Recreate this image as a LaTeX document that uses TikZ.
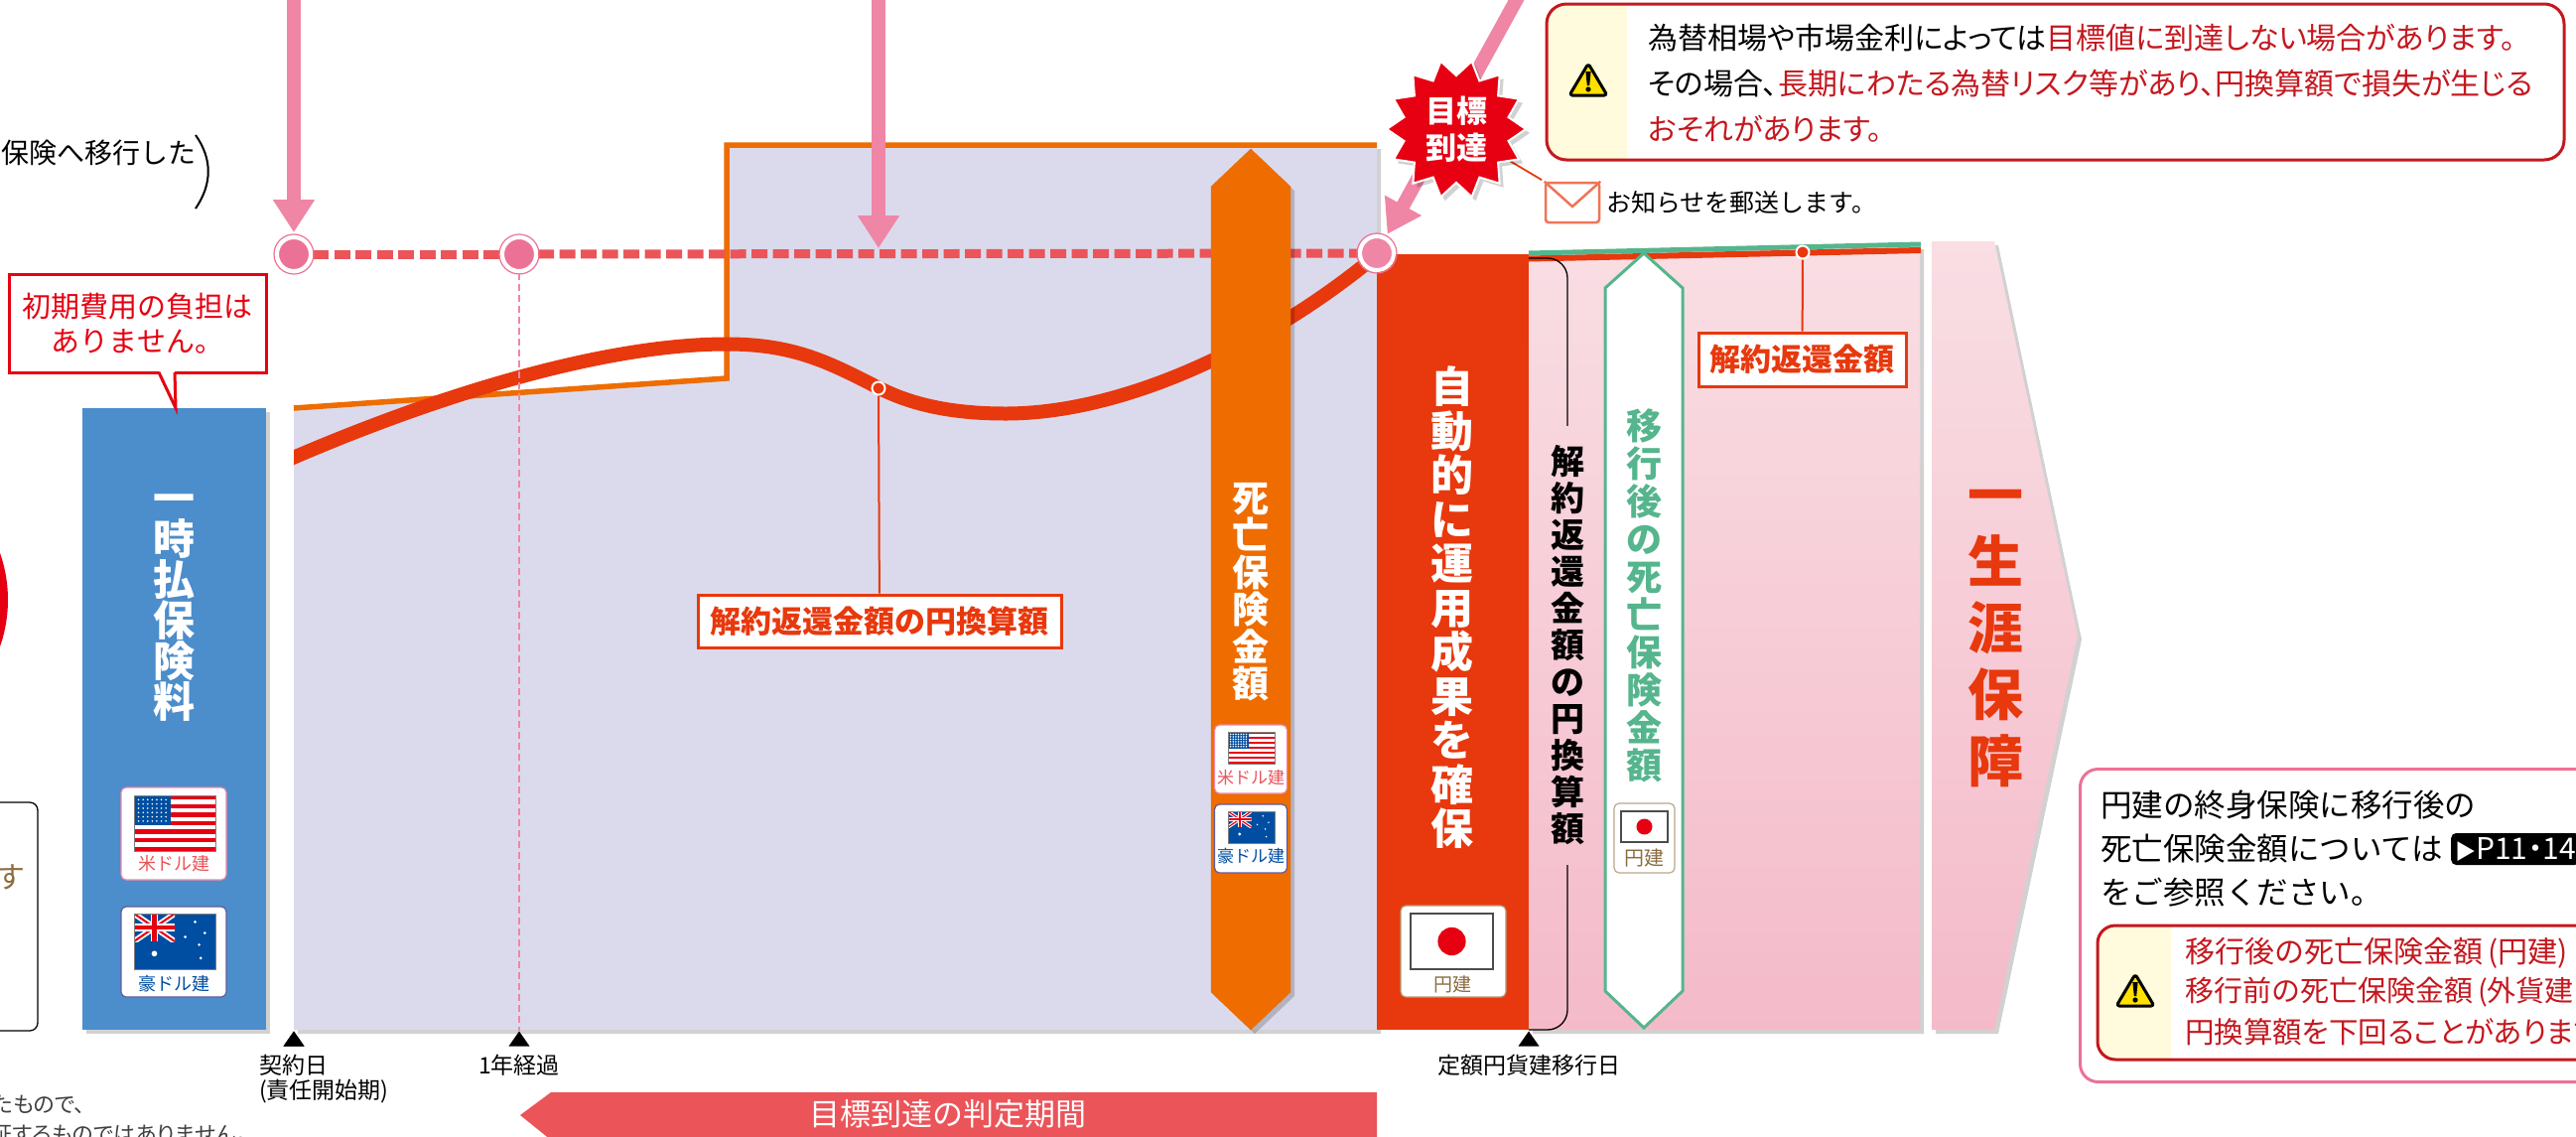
\documentclass[tikz,border=0pt]{standalone}
\usepackage{fontspec}
\setmainfont{Noto Sans CJK JP}
\newfontfamily\paltfont{Noto Sans CJK JP}[RawFeature={+palt}]
\usetikzlibrary{arrows.meta,shapes.geometric,shadows}

\definecolor{panelblue}{HTML}{4C8DCB}
\definecolor{panellav}{HTML}{DBDAEC}
\definecolor{groworange}{HTML}{EE6C00}
\definecolor{bandred}{HTML}{E8380D}
\definecolor{arrowpink}{HTML}{EF86A6}
\definecolor{dotpink}{HTML}{EC7196}
\definecolor{targetred}{HTML}{EB5459}
\definecolor{flagred}{HTML}{E60012}
\definecolor{flagblue}{HTML}{004EA2}
\definecolor{yenbrown}{HTML}{8C6D3F}
\definecolor{deathgreen}{HTML}{55B58D}
\definecolor{warnred}{HTML}{C4181F}
\definecolor{warnpale}{HTML}{FFFBDC}
\definecolor{warnyellow}{HTML}{FFE000}
\definecolor{fadetop}{HTML}{F9DEE4}
\definecolor{fadebot}{HTML}{F4BAC9}

\newcommand{\fs}[1]{\fontsize{#1}{#1}\selectfont}

\tikzset{
  softshadow/.style={drop shadow={shadow xshift=4pt,shadow yshift=-4pt,fill=black,opacity=.18}},
  vtext/.style n args={2}{anchor=center,font=\fontsize{#1}{#2}\selectfont\bfseries,align=center,inner sep=0pt},
  plain/.style n args={2}{font=\fs{#1},text=#2,inner sep=0pt},
  badge/.style={fill=white,rounded corners=5pt,line width=1.2pt,inner sep=0pt},
  tick/.style={isosceles triangle,isosceles triangle stretches,shape border rotate=90,fill=black,minimum height=15pt,minimum width=21pt,inner sep=0pt,anchor=apex},
  ringdot/.style={circle,fill=#1,draw=white,line width=4pt,minimum size=34pt,inner sep=0pt},
  hairdot/.style={circle,fill=bandred,draw=white,line width=2pt,minimum size=13pt,inner sep=0pt},
  tagbox/.style={rectangle,fill=white,draw=bandred,line width=3pt,font=\fs{31}\bfseries,text=bandred,inner sep=0pt},
  pinkarrow/.style={draw=arrowpink,line width=14pt,-{Triangle[width=40pt,length=33pt]},shorten >=3pt},
}

\newcommand{\usflag}[4]{
  \begin{scope}[shift={(#1,#2)},x=#3pt,y=-#4pt]
    \fill[white] (0,0) rectangle (1,1);
    \foreach \k in {0,2,...,12} \fill[flagred] (0,\k/13) rectangle (1,\k/13+1/13);
    \fill[flagblue] (0,0) rectangle (.45,7/13);
    \foreach \i in {1,...,7} \foreach \j in {1,...,6} \fill[white] (\i*.056,\j*.077) circle (.9pt);
    \draw[gray,line width=1pt] (0,0) rectangle (1,1);
  \end{scope}
}
\newcommand{\auflag}[4]{
  \begin{scope}[shift={(#1,#2)},x=#3pt,y=-#4pt]
    \fill[flagblue] (0,0) rectangle (1,1);
    \begin{scope}
      \clip (0,0) rectangle (.5,.5);
      \draw[white,line width=#3*.07] (0,0) -- (.5,.5) (0,.5) -- (.5,0);
      \draw[flagred,line width=#3*.025] (0,0) -- (.5,.5) (0,.5) -- (.5,0);
      \draw[white,line width=#3*.09] (.25,0) -- (.25,.5) (0,.25) -- (.5,.25);
      \draw[flagred,line width=#3*.05] (.25,0) -- (.25,.5) (0,.25) -- (.5,.25);
    \end{scope}
    \fill[white] (.25,.72) circle (#3*.035pt);
    \foreach \i/\j in {.75/.15,.87/.35,.63/.42,.82/.8,.8/.56} \fill[white] (\i,\j) circle (#3*.018pt);
    \draw[gray,line width=1pt] (0,0) rectangle (1,1);
  \end{scope}
}
\newcommand{\jpflag}[4]{
  \begin{scope}[shift={(#1,#2)},x=#3pt,y=-#4pt]
    \fill[white] (0,0) rectangle (1,1);
    \fill[flagred] (.5,.5) circle (#3*.17pt);
    \draw[black!70,line width=1.2pt] (0,0) rectangle (1,1);
  \end{scope}
}
\newcommand{\warnmark}[3]{
  \begin{scope}[shift={(#1,#2)},scale=#3]
    \filldraw[fill=warnyellow,draw=black,line width=3pt,rounded corners=3pt,line join=round] (0,-16) -- (19,16) -- (-19,16) -- cycle;
    \fill[black] (-2.6,-8) -- (2.6,-8) -- (1.2,6) -- (-1.2,6) -- cycle;
    \fill[black] (0,10) circle (2.6pt);
  \end{scope}
}

\begin{document}
\begin{tikzpicture}[x=1pt,y=-1pt]
  \useasboundingbox (0,0) rectangle (2595,1144);
  \clip (0,0) rectangle (2595,1144);

  \fill[flagred] (-134,604) circle (142pt);
  \draw[black,line width=1.3pt,rounded corners=8pt] (-20,808) rectangle (38,1038);
  \node[plain={30}{yenbrown},anchor=east] (keepnote) at (26,883) {す};
  \node[plain={28}{black},anchor=east] (shiftnote) at (198,154) {保険へ移行した};
  \draw[black,line width=2pt] (197,136) .. controls (214,160) and (214,185) .. (197,210);
  \node[plain={22}{black!75},anchor=east] (footA) at (86,1112) {\paltfont たもので、};
  \node[plain={22}{black!75},anchor=east] (footB) at (249,1142) {\paltfont 保証するものではありません。};

  \fill[panelblue,softshadow] (83,411) rectangle (268,1037);
  \node[vtext={42}{41},text=white] (premium) at (175,612) {一\\時\\払\\保\\険\\料};
  \node[badge,draw=arrowpink,minimum width=106pt,minimum height=93pt] (usbadgeA) at (175,839.5) {};
  \usflag{135}{801}{82}{56}
  \node[plain={18}{targetred}] (uslabelA) at (175,870) {米ドル建};
  \node[badge,draw=flagblue!60!dotpink,minimum width=106pt,minimum height=91pt] (aubadgeA) at (175,958.5) {};
  \auflag{135}{920}{82}{56}
  \node[plain={18}{flagblue}] (aulabelA) at (175,991) {豪ドル建};

  \node[rectangle,draw=flagred,fill=white,line width=3pt,minimum width=259pt,minimum height=99pt,font=\fs{29},text=flagred,align=center,inner sep=0pt] (feenote) at (138.5,325.5) {初期費用の負担は\\[6pt]ありません。};
  \coordinate (feetip) at (177,411);
  \fill[white] (160,373) -- (feetip) -- (176,373) -- cycle;
  \draw[flagred,line width=3pt] (160,375) -- (feetip) -- (176,375);

  \fill[panellav,softshadow] (296,411) -- (732,381) -- (732,146) -- (1387,146) -- (1387,1037) -- (296,1037) -- cycle;
  \draw[groworange,line width=5.5pt] (296,411) -- (732,381) -- (732,146) -- (1387,146);

  \begin{scope}
    \clip (296,200) rectangle (1387,500);
    \draw[bandred,line width=14pt] (270,472) .. controls (420,405) and (600,346.5) .. (732,346.5) .. controls (800,346.5) and (835,365) .. (885,390.5) .. controls (925,411) and (970,416.5) .. (1013,416.5) .. controls (1140,416.5) and (1290,340) .. (1395,250);
  \end{scope}

  \node[ringdot=dotpink] (startdot) at (296,256) {};
  \node[ringdot=dotpink] (yeardot) at (523,256) {};
  \node[ringdot=arrowpink] (enddot) at (1387,255) {};
  \draw[targetred,line width=9pt,dash pattern=on 16pt off 5.5pt] (startdot) -- (yeardot);
  \draw[targetred,line width=9pt,dash pattern=on 16pt off 5.5pt] (yeardot) -- (enddot);
  \draw[dotpink,line width=1.2pt] (startdot) circle (20pt) (yeardot) circle (20pt);

  \node[tick] (starttick) at (296,1038) {};
  \node[tick] (yeartick) at (523,1038) {};
  \node[tick] (shifttick) at (1540,1038) {};
  \draw[arrowpink,line width=1.8pt,dash pattern=on 7pt off 4pt] (yeardot) -- (yeartick.apex);

  \coordinate (fallA) at (296,-10);
  \coordinate (fallB) at (885,-10);
  \coordinate (fallC) at (1533,-10);
  \coordinate (midmark) at (885,253);
  \draw[pinkarrow] (fallA) -- (startdot);
  \draw[pinkarrow] (fallB) -- (midmark);
  \draw[pinkarrow] (fallC) -- (enddot);

  \filldraw[groworange,softshadow] (1260,150) -- (1300,188) -- (1300,999) -- (1260,1037) -- (1220,999) -- (1220,188) -- cycle;
  \node[vtext={37}{37.5},text=white] (deathusd) at (1260,596) {死\\亡\\保\\険\\金\\額};
  \node[badge,draw=arrowpink,minimum width=73pt,minimum height=69pt] (usbadgeB) at (1260,764.5) {};
  \usflag{1237}{737}{47}{32}
  \node[plain={17}{targetred}] (uslabelB) at (1260,783) {米ドル建};
  \node[badge,draw=flagblue!60!dotpink,minimum width=73pt,minimum height=69pt] (aubadgeB) at (1260,844.5) {};
  \auflag{1237}{817}{47}{32}
  \node[plain={17}{flagblue}] (aulabelB) at (1260,862) {豪ドル建};

  \fill[bandred] (1387,256) rectangle (1540,1037);
  \node[ringdot=arrowpink] (enddotB) at (1387,255) {};
  \draw[dotpink,line width=1.2pt] (enddotB) circle (20pt);
  \node[vtext={43}{44.5},text=white] (secured) at (1463,612) {自\\動\\的\\に\\運\\用\\成\\果\\を\\確\\保};
  \node[badge,draw=yenbrown!70,minimum width=106pt,minimum height=92pt] (jpbadgeA) at (1464,958) {};
  \jpflag{1421}{920}{83}{56}
  \node[plain={19}{yenbrown}] (jplabelA) at (1463,991) {円建};

  \shade[top color=fadetop,bottom color=fadebot,softshadow] (1540,256) -- (1934,247) -- (1934,1037) -- (1540,1037) -- cycle;
  \draw[bandred,line width=6pt] (1540,260.5) -- (1935,252);
  \draw[deathgreen,line width=5pt] (1540,255) -- (1935,246);

  \coordinate (bracetop) at (1540,260);
  \coordinate (bracebot) at (1540,1037);
  \node[vtext={34}{37},text=black,outer sep=20pt] (yenvalue) at (1579,650) {解\\約\\返\\還\\金\\額\\の\\円\\換\\算\\額};
  \draw[black,line width=1.3pt,rounded corners=20pt] (bracetop) -| (yenvalue.north);
  \draw[black,line width=1.3pt,rounded corners=20pt] (bracebot) -| (yenvalue.south);

  \filldraw[fill=white,draw=deathgreen,line width=3pt] (1656,255) -- (1695,290) -- (1695,998) -- (1656,1035) -- (1617,998) -- (1617,290) -- cycle;
  \node[vtext={36}{38},text=deathgreen] (deathyen) at (1656,600) {移\\行\\後\\の\\死\\亡\\保\\険\\金\\額};
  \node[badge,draw=yenbrown!60,minimum width=61pt,minimum height=70pt] (jpbadgeB) at (1656.5,844) {};
  \jpflag{1633}{817}{47}{31}
  \node[plain={20}{yenbrown}] (jplabelB) at (1656,864) {円建};

  \node[hairdot] (refunddot) at (1816,254) {};
  \node[tagbox,minimum width=209pt,minimum height=54pt] (refundtag) at (1815.5,362) {解約返還金額};
  \draw[bandred,line width=2pt] (refunddot) -- (refundtag);

  \node[hairdot] (yendot) at (885,391) {};
  \node[tagbox,minimum width=366pt,minimum height=53pt] (yentag) at (886,625.5) {解約返還金額の円換算額};
  \draw[bandred,line width=2pt] (yendot) -- (yentag);

  \shade[top color=fadetop,bottom color=fadebot,softshadow] (1946,243) -- (2009,243) -- (2093,640) -- (2009,1037) -- (1946,1037) -- cycle;
  \node[vtext={56}{67},text=bandred] (lifelong) at (2010,643) {一\\生\\涯\\保\\障};

  \node[tick] (starttickB) at (296,1038) {};
  \node[plain={23}{black},align=left,anchor=west] (startdate) at (261,1087) {契約日\\[2pt](責任開始期)};
  \node[plain={23}{black}] (yeardate) at (523,1073) {1年経過};
  \node[plain={23}{black}] (shiftdate) at (1540,1073) {定額円貨建移行日};

  \fill[targetred] (524,1123) -- (555,1100) -- (1387,1100) -- (1387,1148) -- (555,1148) -- cycle;
  \node[plain={31}{white}] (judgeterm) at (955,1122) {目標到達の判定期間};

  \begin{scope}
    \clip[rounded corners=20pt] (1558,4) rectangle (2583,161);
    \fill[white] (1558,4) rectangle (2583,161);
    \fill[warnpale] (1558,4) rectangle (1639,161);
  \end{scope}
  \draw[warnred,line width=3pt,rounded corners=20pt] (1558,4) rectangle (2583,161);
  \warnmark{1600}{80}{1}
  \node[plain={30}{black},anchor=west] (warnA) at (1660,38) {\paltfont 為替相場や市場金利によっては\textcolor{warnred}{目標値に到達しない場合があります。}};
  \node[plain={30}{black},anchor=west] (warnB) at (1660,84) {\paltfont その場合、\textcolor{warnred}{長期にわたる為替リスク等があり、円換算額で損失が生じる}};
  \node[plain={30}{warnred},anchor=west] (warnC) at (1660,130) {\paltfont おそれがあります。};

  \node[rectangle,draw=bandred!70!white,fill=white,line width=2.5pt,rounded corners=3pt,minimum width=54pt,minimum height=40pt,inner sep=0pt] (letter) at (1584,204) {};
  \coordinate (flaptip) at (1584,208);
  \draw[bandred!70!white,line width=2.5pt] (letter.north west) -- (flaptip) -- (letter.north east);
  \node[plain={25}{black},anchor=west] (letternote) at (1618,204) {お知らせを郵送します。};

  \draw[bandred,line width=1.8pt,shorten >=3pt] (1467,130) -- (letter.north west);
  \node[star,star points=14,star point ratio=1.3,shape border rotate=12.86,fill=flagred,draw=white,line width=2pt,minimum size=140pt,inner sep=0pt,text=white,font=\fontsize{31}{37}\selectfont\bfseries,align=center,softshadow] (reached) at (1467,130) {目標\\到達};

  \node[rectangle,draw=dotpink,fill=white,line width=3pt,rounded corners=18pt,minimum width=600pt,minimum height=315pt,inner sep=0pt,anchor=north west] (yenbox) at (2094,773) {};
  \node[plain={31.5}{black},anchor=west] (yenA) at (2116,811) {円建の終身保険に移行後の};
  \node[plain={31.5}{black},anchor=west] (yenB) at (2116,855) {死亡保険金額については};
  \node[fill=black,text=white,rounded corners=5pt,font=\fs{30}\paltfont,inner xsep=4pt,inner ysep=2pt,anchor=west,minimum height=32pt] (pagetag) at (2469,855) {\scalebox{.7}{▶}P11・14};
  \node[plain={31.5}{black},anchor=west] (yenC) at (2116,899) {をご参照ください。};

  \begin{scope}
    \clip[rounded corners=18pt] (2113,932) rectangle (2640,1067);
    \fill[warnpale] (2113,932) rectangle (2187,1067);
  \end{scope}
  \draw[warnred,line width=3pt,rounded corners=18pt] (2113,932) rectangle (2640,1067);
  \warnmark{2151}{997}{1}
  \node[plain={30}{warnred},anchor=west] (lowerA) at (2201,960) {移行後の死亡保険金額\,(円建)};
  \node[plain={29}{warnred},anchor=west] (lowerB) at (2201,999) {移行前の死亡保険金額\,(外貨建};
  \node[plain={29.5}{warnred},anchor=west] (lowerC) at (2201,1039) {\paltfont 円換算額を下回ることがあります};
\end{tikzpicture}
\end{document}
